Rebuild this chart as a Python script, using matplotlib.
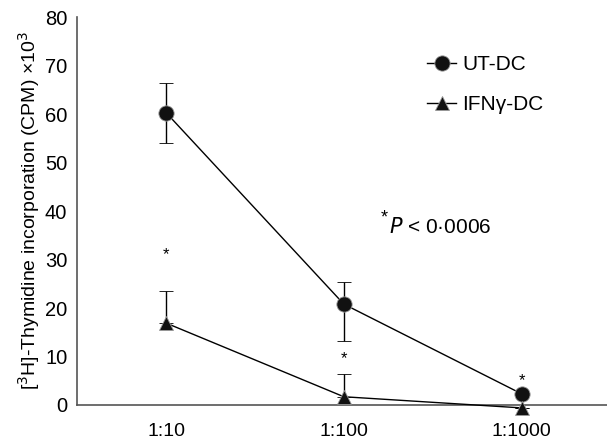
import numpy as np
import matplotlib.pyplot as plt
from matplotlib.lines import Line2D

plt.rcParams['font.family'] = ['Liberation Sans', 'DejaVu Sans']

# data
ratios = ["1:10", "1:100", "1:1000"]
ut_dc = [60.3, 20.8, 2.3]
ut_err_low = [6.2, 7.7, 0.0]
ut_err_high = [6.0, 4.6, 0.0]
ifn_dc = [16.9, 1.7, -0.6]
ifn_err_high = [6.7, 4.7, 0.0]
star_y = [31.0, 9.6, 5.0]

x = np.arange(len(ratios))

fig = plt.figure(figsize=(6.07, 4.48), dpi=100)
ax = fig.add_axes([0.127, 0.096, 0.873, 0.866])

style = dict(color="black", lw=1, markerfacecolor="#111111",
             markeredgecolor="#999999", markeredgewidth=0.6)

ax.errorbar(x, ut_dc, yerr=[ut_err_low, ut_err_high], marker="o", markersize=11,
            capsize=5, elinewidth=1, capthick=1, zorder=3, clip_on=False, **style)
ax.errorbar(x, ifn_dc, yerr=[np.zeros(3), ifn_err_high], marker="^", markersize=10,
            capsize=5, elinewidth=1, capthick=1, zorder=3, clip_on=False, **style)

for xi, yi in zip(x, star_y):
    ax.text(xi, yi, "*", ha="center", va="center", fontsize=12)

ax.text(1.21, 36.9, "*", fontsize=13, va="bottom", ha="left")
ax.text(1.255, 36.7, "$\\mathit{P}$ < 0\u00b70006", fontsize=15, va="center", ha="left")

ax.set_xlim(-0.5, 2.48)
ax.set_ylim(0, 80)
ax.set_yticks(range(0, 81, 10))
ax.set_xticks(x)
ax.set_xticklabels(ratios)
ax.tick_params(axis="x", length=0, labelsize=14, pad=13)
ax.tick_params(axis="y", length=0, labelsize=14.5, pad=7)
ax.set_ylabel("[$^3$H]-Thymidine incorporation (CPM) \u00d710$^3$", fontsize=14, labelpad=2)

for side in ["top", "right"]:
    ax.spines[side].set_visible(False)
for side in ["left", "bottom"]:
    ax.spines[side].set_color("#555555")
    ax.spines[side].set_linewidth(1.2)

handles = [Line2D([], [], marker="o", markersize=11, **style),
           Line2D([], [], marker="^", markersize=10, **style)]
ax.legend(handles, ["UT-DC", "IFN\u03b3-DC"], loc="upper left",
          bbox_to_anchor=(0.625, 0.95), frameon=False,
          handlelength=1.4, handletextpad=0.3, labelspacing=1.0, fontsize=15)

fig.savefig("out.png", dpi=100)
